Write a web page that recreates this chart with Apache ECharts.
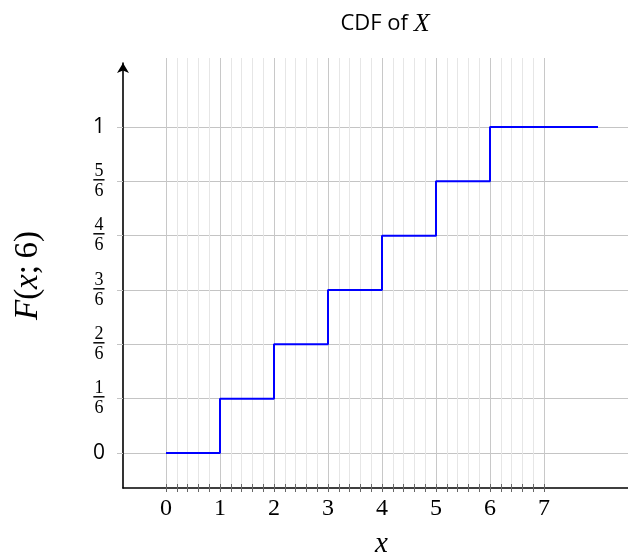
<!DOCTYPE html>
<html>
<head>
<meta charset="utf-8">
<style>
  html, body { margin: 0; padding: 0; background: #fff; }
  #chart { width: 628px; height: 557px; }
</style>
<script src="https://cdn.jsdelivr.net/npm/echarts@6/dist/echarts.min.js"></script>
</head>
<body>
<div id="chart"></div>
<script>
// Step CDF of a fair six-sided die
const xTickLabels = ['0', '1', '2', '3', '4', '5', '6', '7'];
const yTickLabels = ['0', '1/6', '2/6', '3/6', '4/6', '5/6', '1'];
const stepX = [0, 1, 2, 3, 4, 5, 6, 8];
const stepF = [0, 1 / 6, 2 / 6, 3 / 6, 4 / 6, 5 / 6, 1, 1];

// Layout (pixels)
const W = 628, H = 557;
const X0 = 166, UX = 54;        // x = 0 position, pixels per unit
const Y0 = 453, UY = 326;       // F = 0 position, pixels per unit of F
const AXIS_X = 123, AXIS_Y = 488;
const FRAME_TOP = 63, GRID_TOP = 58;
const X_GRID_MAX = 7;

const serif = '"Liberation Serif", "DejaVu Serif", serif';
const sans = '"Open Sans", "Noto Sans", sans-serif';

const chart = echarts.init(document.getElementById('chart'), null, { renderer: 'canvas' });

// "k/6" is stacked as numerator, rule, denominator
const fracLabel = (v) => {
  const t = yTickLabels[v];
  if (t.indexOf('/') < 0) return '{s|' + t + '}';
  const [n, d] = t.split('/');
  return '{n|' + n + '}\n{bar|\u2500}\n{d|' + d + '}';
};

chart.setOption({
  animation: false,
  backgroundColor: '#fff',
  title: {
    text: '{s|CDF of }{m|X}',
    left: 380,
    top: 6,
    textAlign: 'center',
    textStyle: {
      fontWeight: 'normal',
      rich: {
        s: { fontFamily: sans, fontWeight: 'normal', fontSize: 22, color: '#000' },
        m: { fontFamily: serif, fontWeight: 'normal', fontStyle: 'italic', fontSize: 26, color: '#000' }
      }
    }
  },
  grid: [
    // frame: axis lines and the step curve
    { left: AXIS_X, right: 0, top: FRAME_TOP, bottom: H - AXIS_Y, outerBoundsMode: 'none', containLabel: false },
    // vertical grid, x ticks and labels
    { left: X0, right: W - (X0 + X_GRID_MAX * UX), top: GRID_TOP, bottom: H - AXIS_Y, outerBoundsMode: 'none', containLabel: false },
    // horizontal grid and F labels
    { left: AXIS_X, right: 0, top: Y0 - UY, bottom: H - Y0, outerBoundsMode: 'none', containLabel: false }
  ],
  xAxis: [
    {
      gridIndex: 0, type: 'value',
      min: (AXIS_X - X0) / UX, max: (W - X0) / UX,
      axisLine: { show: true, onZero: false, lineStyle: { color: '#000', width: 1.6 } },
      axisTick: { show: false }, axisLabel: { show: false }, splitLine: { show: false },
      name: 'x', nameLocation: 'middle', nameGap: 42,
      nameTextStyle: { fontFamily: serif, fontStyle: 'italic', fontSize: 29, color: '#000', padding: [0, 0, 0, 12] }
    },
    {
      gridIndex: 1, type: 'value', min: 0, max: X_GRID_MAX, interval: 1, offset: -4,
      axisLine: { show: false },
      axisTick: { show: true, length: 8, lineStyle: { color: '#666', width: 1 } },
      minorTick: { show: true, splitNumber: 5, length: 8, lineStyle: { color: '#666', width: 1 } },
      splitLine: { show: true, lineStyle: { color: '#c8c8c8', width: 1 } },
      minorSplitLine: { show: true, lineStyle: { color: '#e6e6e6', width: 1 } },
      axisLabel: {
        show: true, margin: 13, color: '#000', fontFamily: serif, fontSize: 24,
        formatter: (v) => xTickLabels[v]
      }
    },
    { gridIndex: 2, type: 'value', min: 0, max: 1, show: false }
  ],
  yAxis: [
    {
      gridIndex: 0, type: 'value',
      min: (Y0 - AXIS_Y) / UY, max: (Y0 - FRAME_TOP) / UY,
      axisLine: { show: true, onZero: false, symbol: ['none', 'arrow'], symbolSize: [9, 10], lineStyle: { color: '#000', width: 1.6 } },
      axisTick: { show: false }, axisLabel: { show: false }, splitLine: { show: false },
      name: '{i|F}{r|(}{i|x}{r|;\u20096)}', nameLocation: 'middle', nameRotate: 90, nameGap: 78,
      nameTextStyle: {
        rich: {
          i: { fontFamily: serif, fontStyle: 'italic', fontSize: 33, color: '#000' },
          r: { fontFamily: serif, fontSize: 33, color: '#000' }
        }
      }
    },
    { gridIndex: 1, type: 'value', min: 0, max: 1, show: false },
    {
      gridIndex: 2, type: 'value', min: 0, max: yTickLabels.length - 1, interval: 1,
      axisLine: { show: false },
      axisTick: { show: true, length: 6, lineStyle: { color: '#c4c4c4', width: 1 } },
      splitLine: { show: true, lineStyle: { color: '#c4c4c4', width: 1 } },
      axisLabel: {
        show: true, margin: 18, color: '#000', formatter: fracLabel,
        rich: {
          s: { fontFamily: sans, fontSize: 21, color: '#000', lineHeight: 24 },
          n: { fontFamily: serif, fontSize: 18, color: '#000', lineHeight: 16, width: 12, align: 'center' },
          bar: { fontFamily: '"DejaVu Sans Mono", monospace', fontSize: 18, color: '#000', lineHeight: 4, width: 12, align: 'center' },
          d: { fontFamily: serif, fontSize: 18, color: '#000', lineHeight: 16, width: 12, align: 'center' }
        }
      }
    }
  ],
  series: [
    {
      type: 'line', xAxisIndex: 0, yAxisIndex: 0,
      step: 'end', showSymbol: false, silent: true, z: 5,
      lineStyle: { color: '#0000ff', width: 2 },
      data: stepX.map((x, i) => [x, stepF[i]])
    }
  ]
});
</script>
</body>
</html>
